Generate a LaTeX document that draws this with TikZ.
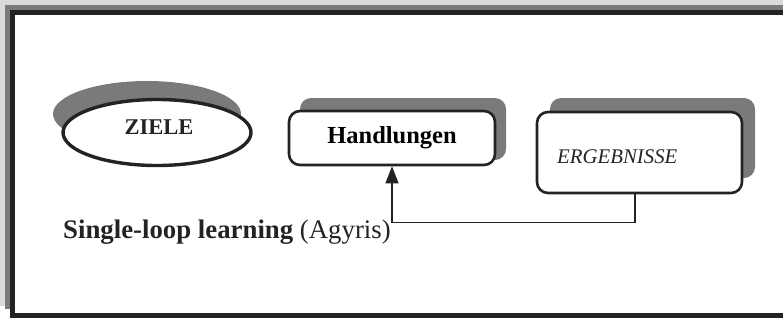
\documentclass[tikz,border=0pt]{standalone}
\usepackage{fontspec}
\setmainfont{Liberation Serif}
\usetikzlibrary{shapes.geometric,arrows.meta}
\definecolor{shadowgray}{RGB}{122,122,122}
\definecolor{halo}{RGB}{218,218,218}
\definecolor{ink}{RGB}{35,35,35}
\begin{document}
\begin{tikzpicture}[x=1pt,y=-1pt,
  box/.style={draw=ink,line width=2.6pt,rounded corners=11pt,fill=white,inner sep=0pt},
  shade/.style={fill=shadowgray,rounded corners=11pt},
  lbl/.style={text=ink,inner sep=0pt},
  link/.style={draw=ink,line width=1.2pt}]
\useasboundingbox (0,0) rectangle (783,322);
% frame
\begin{scope}
\clip (0,0) rectangle (783,322);
\draw[halo,line width=5pt] (2.5,306) -- (2.5,2.5) -- (800,2.5);
\draw[shadowgray,line width=5pt] (7.5,309) -- (7.5,7.5) -- (800,7.5);
\draw[ink,line width=5pt] (12.5,12.5) rectangle (800,315);
\end{scope}
% ZIELE
\fill[shadowgray] (147,114) ellipse [x radius=94, y radius=33];
\node[ellipse,draw=ink,line width=3.4pt,fill=white,minimum width=188pt,minimum height=66pt,inner sep=0pt] (ziele) at (157,132.5) {};
\node[lbl,font=\fontsize{22.5}{26}\selectfont\bfseries] (zielelbl) at (159,127) {ZIELE};
% Handlungen
\path[shade] (300,98) rectangle (506,160);
\node[box,minimum width=206pt,minimum height=54pt,font=\fontsize{24.5}{28}\selectfont\bfseries] (hand) at (392,138) {Handlungen};
% ERGEBNISSE
\path[shade] (550,98) rectangle (755,178);
\node[box,minimum width=205pt,minimum height=81pt] (erg) at (639.5,152.5) {};
\node[lbl,anchor=base west,font=\fontsize{20.8}{24}\selectfont\itshape] (erglbl) at (557,163) {ERGEBNISSE};
% feedback loop
\draw[link,-{Triangle[length=17pt,width=13pt]}] ([xshift=-4.5pt]erg.south) -- ++(0,28) -| (hand.south);
% caption
\node[lbl,anchor=base west,font=\fontsize{26.8}{31}\selectfont] (caption) at (63,238) {\textbf{Single-loop learning} (Agyris)};
\end{tikzpicture}
\end{document}
